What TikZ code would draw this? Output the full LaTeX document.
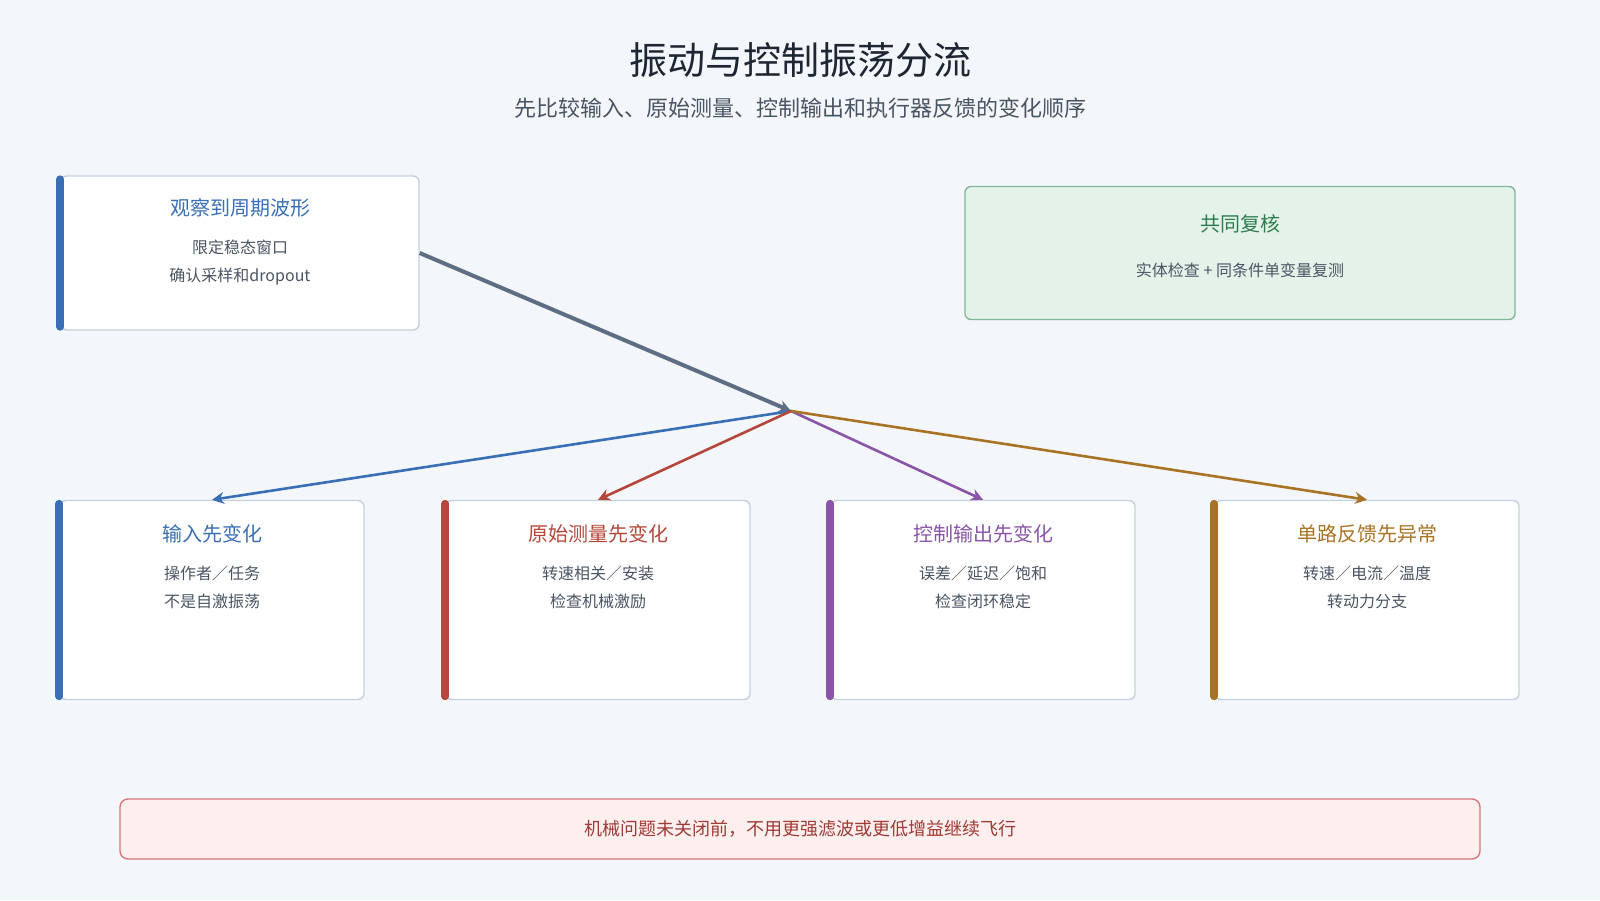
\documentclass[tikz,border=0pt]{standalone}
\usepackage{fontspec}
\setmainfont{Noto Sans CJK SC}
\usetikzlibrary{arrows.meta}
\definecolor{bgc}{HTML}{F3F6FA}
\definecolor{titlec}{HTML}{1E2633}
\definecolor{textc}{HTML}{4A5564}
\definecolor{edgec}{HTML}{C5D1DF}
\definecolor{blueac}{HTML}{3A6FB5}
\definecolor{redac}{HTML}{B5473A}
\definecolor{purpac}{HTML}{8A55A8}
\definecolor{brownac}{HTML}{A87324}
\definecolor{grayac}{HTML}{5E6E82}
\definecolor{greenfill}{HTML}{E5F2EA}
\definecolor{greenedge}{HTML}{7FB897}
\definecolor{greentext}{HTML}{2E7D4F}
\definecolor{warnfill}{HTML}{FDEFEE}
\definecolor{warnedge}{HTML}{D9777A}
\definecolor{warntext}{HTML}{9E3B36}

\begin{document}
\begin{tikzpicture}[x=0.5pt, y=-0.5pt]
    % Define styles
    \tikzset{
      card/.style={rectangle, rounded corners=3pt, draw=edgec, line width=0.7pt, fill=white, minimum width=#1},
      cardtitle/.style={font=\fontsize{10}{12}\selectfont},
      cardtext/.style={font=\fontsize{8}{14}\selectfont, text=textc, align=center},
      accent/.style={line width=4pt, line cap=round},
      arrow/.style={line width=1.3pt, -{Stealth[length=6pt, width=6pt]}}
    }
    \fill[bgc] (0,0) rectangle (1600,900);
    \useasboundingbox (0,0) rectangle (1600,900);

    % Title
    \node (title) [font=\fontsize{19}{22}\selectfont, text=titlec] at (800,60) {振动与控制振荡分流};
    \node (subtitle) [font=\fontsize{11}{13}\selectfont, text=textc] at (800,108) {先比较输入、原始测量、控制输出和执行器反馈的变化顺序};

    % Observation box
    \node (obs) [card=179pt, minimum height=77pt] at (240,253) {};
    \draw [accent, blueac] ([yshift=-2pt]obs.north west) -- ([yshift=2pt]obs.south west);
    \node (obs_t) [cardtitle, text=blueac] at (240,208) {观察到周期波形};
    \node (obs_x) [cardtext] at (240,263) {限定稳态窗口\\确认采样和dropout};

    % Review box
    \node (review) [rectangle, rounded corners=3pt, draw=greenedge, fill=greenfill, line width=0.7pt, minimum width=275pt, minimum height=66.5pt] at (1240,253) {};
    \node (review_t) [cardtitle, text=greentext] at (1240,224) {共同复核};
    \node (review_x) [cardtext] at (1240,270) {实体检查 + 同条件单变量复测};

    % Branch boxes
    \foreach \name/\cx/\col/\head/\la/\lb in {
        input/212/blueac/输入先变化/操作者／任务/不是自激振荡,
        raw/598/redac/原始测量先变化/转速相关／安装/检查机械激励,
        ctrl/983/purpac/控制输出先变化/误差／延迟／饱和/检查闭环稳定,
        fb/1367/brownac/单路反馈先异常/转速／电流／温度/转动力分支}{
      \node (\name) [card=152pt, minimum height=99.5pt] at (\cx,600) {};
      \draw [accent, \col] ([yshift=-2pt]\name.north west) -- ([yshift=2pt]\name.south west);
      \node (\name_t) [cardtitle, text=\col] at (\cx,534) {\head};
      \node (\name_x) [cardtext] at (\cx,587) {\la\\\lb};
    }

    % Arrows
    \coordinate (hub) at (791,411);
    \draw [arrow, grayac, line width=2pt] (obs.east) -- (hub);
    \draw [arrow, blueac] (hub) -- (input.north);
    \draw [arrow, redac] (hub) -- (raw.north);
    \draw [arrow, purpac] (hub) -- (ctrl.north);
    \draw [arrow, brownac] (hub) -- (fb.north);

    % Warning
    \node (warn) [rectangle, rounded corners=4pt, draw=warnedge, fill=warnfill, line width=0.7pt, minimum width=680pt, minimum height=30pt, font=\fontsize{9}{11}\selectfont, text=warntext] at (800,829) {机械问题未关闭前，不用更强滤波或更低增益继续飞行};
\end{tikzpicture}
\end{document}
